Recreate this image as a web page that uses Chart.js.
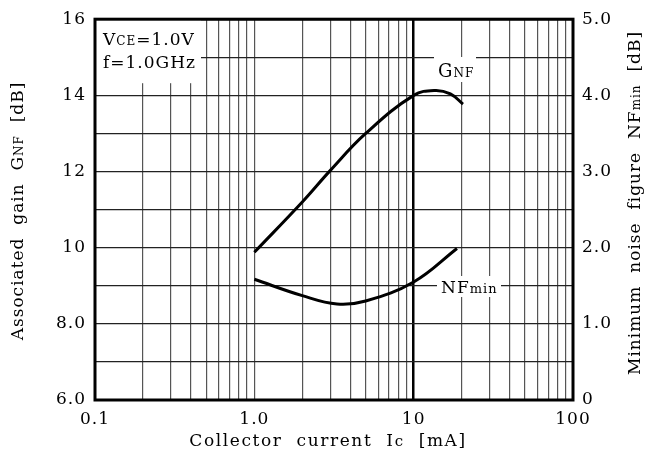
<!DOCTYPE html>
<html>
<head>
<meta charset="utf-8">
<script src="https://cdn.jsdelivr.net/npm/chart.js@4.4.1/dist/chart.umd.min.js"></script>
<style>
  html, body { margin: 0; padding: 0; background: #fff; }
  #wrap { width: 645px; height: 457px; position: relative; }
</style>
</head>
<body>
<div id="wrap"><canvas id="chart" width="645" height="457"></canvas></div>
<script>
// Associated gain / minimum noise figure vs collector current

const gnfCurrent = [1.0, 2.0, 3.0, 5.0, 10, 13.6, 17, 20.4];
const gnfGain    = [9.88, 11.2, 12.03, 13.0, 14.0, 14.13, 14.04, 13.77];

const nfCurrent  = [1.0, 2.0, 3.3, 5.0, 10, 18.7];
const nfMin      = [1.585, 1.37, 1.26, 1.30, 1.55, 1.99];

const xDecades    = [0.1, 1, 10];
const xTickLabels = { '0.1': '0.1', '1': '1.0', '10': '10', '100': '100' };
const gainTicks   = [6, 7, 8, 9, 10, 11, 12, 13, 14, 15, 16];
const gainLabels  = { 6: '6.0', 8: '8.0', 10: '10', 12: '12', 14: '14', 16: '16' };
const nfTicks     = [0, 1, 2, 3, 4, 5];
const nfLabels    = ['0', '1.0', '2.0', '3.0', '4.0', '5.0'];

const FONT = '"DejaVu Serif", "Liberation Serif", serif';

// gridline positions: 1..9 in every decade, then 100
const xGrid = [];
xDecades.forEach(d => { for (let m = 1; m <= 9; m++) xGrid.push(+(d * m).toPrecision(3)); });
xGrid.push(100);

const toXY = (xs, ys) => xs.map((x, i) => ({ x, y: ys[i] }));

// draw a run of text pieces of mixed size, left to right
function drawRich(ctx, parts, x, y, align) {
  let total = 0;
  parts.forEach(([t, s]) => { ctx.font = `${s}px ${FONT}`; total += ctx.measureText(t).width; });
  let cx = align === 'center' ? x - total / 2 : x;
  parts.forEach(([t, s]) => {
    ctx.font = `${s}px ${FONT}`;
    ctx.fillText(t, cx, y);
    cx += ctx.measureText(t).width;
  });
  return total;
}

const decor = {
  id: 'decor',
  beforeDraw(chart) { chart.ctx.letterSpacing = '1px'; },
  afterDatasetsDraw(chart) {
    const { ctx, chartArea: a } = chart;
    ctx.save();
    ctx.letterSpacing = '1px';
    ctx.fillStyle = '#fff';
    // condition box clears the grid
    ctx.fillRect(a.left, a.top, 106, 64);
    // label backgrounds
    ctx.fillRect(434, 57, 42, 25);
    ctx.fillRect(437, 276, 64, 21);

    ctx.fillStyle = '#000';
    ctx.textBaseline = 'alphabetic';
    drawRich(ctx, [['V', 17], ['CE', 12], ['=1.0V', 17]], 103, 45);
    drawRich(ctx, [['f=1.0GHz', 17]], 103, 68);
    drawRich(ctx, [['G', 18], ['NF', 12]], 438, 77);
    drawRich(ctx, [['NF', 17], ['min', 13]], 441, 293);

    // axis titles
    ctx.letterSpacing = '1.6px';
    drawRich(ctx, [['Collector  current  I', 17], ['c', 15], ['  [mA]', 17]], 328, 446, 'center');
    ctx.letterSpacing = '1px';
    ctx.save();
    ctx.translate(23, 211);
    ctx.rotate(-Math.PI / 2);
    drawRich(ctx, [['Associated  gain  G', 17], ['NF', 12], ['  [dB]', 17]], 0, 0, 'center');
    ctx.restore();
    ctx.save();
    ctx.translate(640, 203);
    ctx.rotate(-Math.PI / 2);
    drawRich(ctx, [['Minimum  noise  figure  NF', 17], ['min', 12], ['  [dB]', 17]], 0, 0, 'center');
    ctx.restore();

    // frame
    ctx.strokeStyle = '#000';
    ctx.lineWidth = 3;
    ctx.strokeRect(a.left, a.top, a.right - a.left, a.bottom - a.top);
    ctx.restore();
  }
};

new Chart(document.getElementById('chart'), {
  type: 'line',
  data: {
    datasets: [
      {
        label: 'GNF',
        data: toXY(gnfCurrent, gnfGain),
        yAxisID: 'y',
        borderColor: '#000',
        borderWidth: 3,
        pointRadius: 0,
        tension: 0.4,
        fill: false,
      },
      {
        label: 'NFmin',
        data: toXY(nfCurrent, nfMin),
        yAxisID: 'y2',
        borderColor: '#000',
        borderWidth: 3,
        pointRadius: 0,
        tension: 0.4,
        fill: false,
      },
    ],
  },
  options: {
    responsive: false,
    animation: false,
    layout: { padding: { top: 16, left: 0, right: 0, bottom: 0 } },
    plugins: { legend: { display: false }, tooltip: { enabled: false } },
    scales: {
      x: {
        type: 'logarithmic',
        min: 0.1, max: 100,
        afterBuildTicks: s => { s.ticks = xGrid.map(v => ({ value: v })); },
        afterFit: s => { s.height = 57; },
        border: { display: false },
        grid: {
          drawTicks: false,
          color: c => (c.tick && c.tick.value === 10 ? '#000' : '#555'),
          lineWidth: c => (c.tick && c.tick.value === 10 ? 2.5 : 1.2),
        },
        ticks: {
          autoSkip: false, maxRotation: 0, padding: 9,
          color: '#000', font: { family: FONT, size: 17 },
          callback: v => xTickLabels[String(v)] || '',
        },
      },
      y: {
        position: 'left',
        min: 6, max: 16,
        afterBuildTicks: s => { s.ticks = gainTicks.map(v => ({ value: v })); },
        afterFit: s => { s.width = 95; },
        border: { display: false },
        grid: { drawTicks: false, color: '#222', lineWidth: 1.2 },
        ticks: {
          padding: 9, color: '#000', font: { family: FONT, size: 17 },
          callback: v => gainLabels[v] || '',
        },
      },
      y2: {
        position: 'right',
        min: 0, max: 5,
        afterBuildTicks: s => { s.ticks = nfTicks.map(v => ({ value: v })); },
        afterFit: s => { s.width = 72; },
        border: { display: false },
        grid: { display: false, drawTicks: false },
        ticks: {
          padding: 9, color: '#000', font: { family: FONT, size: 17 },
          callback: v => nfLabels[v],
        },
      },
    },
  },
  plugins: [decor],
});
</script>
</body>
</html>
